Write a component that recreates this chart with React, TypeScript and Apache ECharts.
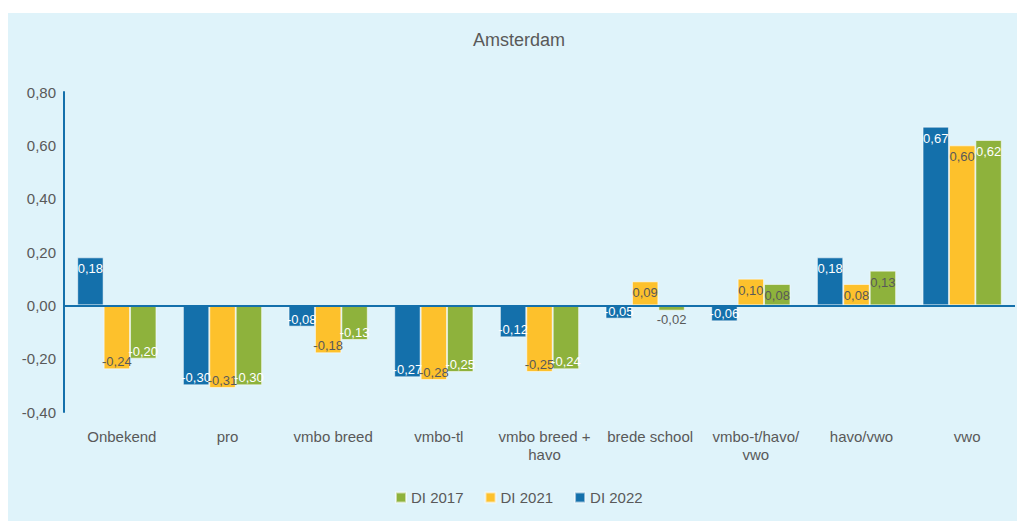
import React, { useEffect, useRef } from "react";
import * as echarts from "echarts";

const categories = [
  "Onbekend",
  "pro",
  "vmbo breed",
  "vmbo-tl",
  "vmbo breed + havo",
  "brede school",
  "vmbo-t/havo/vwo",
  "havo/vwo",
  "vwo",
];
const di2022 = [0.18, -0.3, -0.08, -0.27, -0.12, -0.05, -0.06, 0.18, 0.67];
const di2021 = [-0.24, -0.31, -0.18, -0.28, -0.25, 0.09, 0.1, 0.08, 0.6];
const di2017 = [-0.2, -0.3, -0.13, -0.25, -0.24, -0.02, 0.08, 0.13, 0.62];
const seriesNames = ["DI 2022", "DI 2021", "DI 2017"];
const legendOrder = ["DI 2017", "DI 2021", "DI 2022"];
const yTicks = { min: -0.4, max: 0.8, interval: 0.2 };

const BLUE = "#1470ab";
const YELLOW = "#fdc12c";
const GREEN = "#8eb23c";
const DARK = "#595959";
const FONT = "'Liberation Sans', Arial, sans-serif";

const fmt = (v: number) => {
  const s = (Math.abs(v) < 1e-9 ? 0 : v).toFixed(2).replace(".", ",");
  return s;
};

const wrap = (s: string) => {
  if (s.length <= 14) return s;
  let idx = -1;
  for (let i = 0; i < 13; i++) {
    if (s[i] === " " || s[i] === "/") idx = i;
  }
  if (idx < 0) return s;
  const first = s.slice(0, idx + 1).trimEnd();
  const rest = s.slice(idx + 1).trimStart();
  return first + "\n" + rest;
};

function buildData(values: number[], labelColor: (v: number) => string) {
  return values.map((v) => {
    let position = v >= 0 ? "insideTop" : "insideBottom";
    let distance = v >= 0 ? 5 : 1;
    if (v < 0 && v > -0.03) {
      position = "bottom";
      distance = 2;
    }
    return {
      value: v,
      label: { position, distance, color: labelColor(v) },
    };
  });
}

export default function App() {
  const ref = useRef<HTMLDivElement>(null);
  useEffect(() => {
    if (!ref.current) return;
    const chart = echarts.init(ref.current, undefined, { renderer: "svg" });
    const barCommon = {
      type: "bar",
      barGap: "0%",
      barCategoryGap: "25%",
      label: {
        show: true,
        fontSize: 13,
        fontFamily: FONT,
        formatter: (p: any) => fmt(p.value),
      },
    };
    const colors: Record<string, string> = {
      "DI 2022": BLUE,
      "DI 2021": YELLOW,
      "DI 2017": GREEN,
    };
    const dataSets: Record<string, number[]> = {
      "DI 2022": di2022,
      "DI 2021": di2021,
      "DI 2017": di2017,
    };
    const labelColors: Record<string, (v: number) => string> = {
      "DI 2022": () => "#ffffff",
      "DI 2021": () => DARK,
      "DI 2017": (v: number) => (v >= 0 && v < 0.5) || (v < 0 && v > -0.03) ? DARK : "#ffffff",
    };
    const series: any[] = seriesNames.map((name, i) => ({
      ...barCommon,
      name,
      itemStyle: {
        color: colors[name],
        borderColor: "rgba(255,255,255,0.55)",
        borderWidth: 1,
      },
      data: buildData(dataSets[name], labelColors[name]),
      ...(i === 0
        ? {
            markLine: {
              silent: true,
              symbol: "none",
              label: { show: false },
              lineStyle: { color: BLUE, width: 2, type: "solid" },
              data: [{ yAxis: 0 }],
            },
          }
        : {}),
    }));

    chart.setOption({
      animation: false,
      backgroundColor: "#dff3fa",
      textStyle: { fontFamily: FONT },
      title: {
        text: "Amsterdam",
        left: 506,
        textAlign: "center",
        top: 13,
        textStyle: {
          fontSize: 18,
          fontWeight: "normal",
          color: DARK,
          fontFamily: FONT,
        },
      },
      legend: {
        data: legendOrder,
        left: 382,
        top: 472,
        icon: "rect",
        itemWidth: 10,
        itemHeight: 10,
        itemGap: 21,
        textStyle: { fontSize: 15, color: DARK, fontFamily: FONT },
      },
      grid: { left: 56, right: 2, top: 79, bottom: 109, containLabel: false },
      xAxis: {
        type: "category",
        data: categories,
        axisLine: { show: false, onZero: false },
        axisTick: { show: false },
        axisLabel: {
          interval: 0,
          margin: 15,
          fontSize: 15,
          lineHeight: 18,
          color: DARK,
          fontFamily: FONT,
          padding: [0, 0, 0, 10],
          formatter: (v: string) => wrap(v),
        },
        splitLine: { show: false },
      },
      yAxis: {
        type: "value",
        min: yTicks.min,
        max: yTicks.max,
        interval: yTicks.interval,
        axisLine: { show: true, lineStyle: { color: BLUE, width: 2 } },
        axisTick: { show: false },
        splitLine: { show: false },
        axisLabel: {
          fontSize: 15,
          color: DARK,
          margin: 8,
          fontFamily: FONT,
          formatter: (v: number) => fmt(v),
        },
      },
      series,
    });
    return () => chart.dispose();
  }, []);
  return (
    <div
      ref={ref}
      style={{ position: "absolute", left: 8, top: 13, width: 1009, height: 508 }}
    />
  );
}
